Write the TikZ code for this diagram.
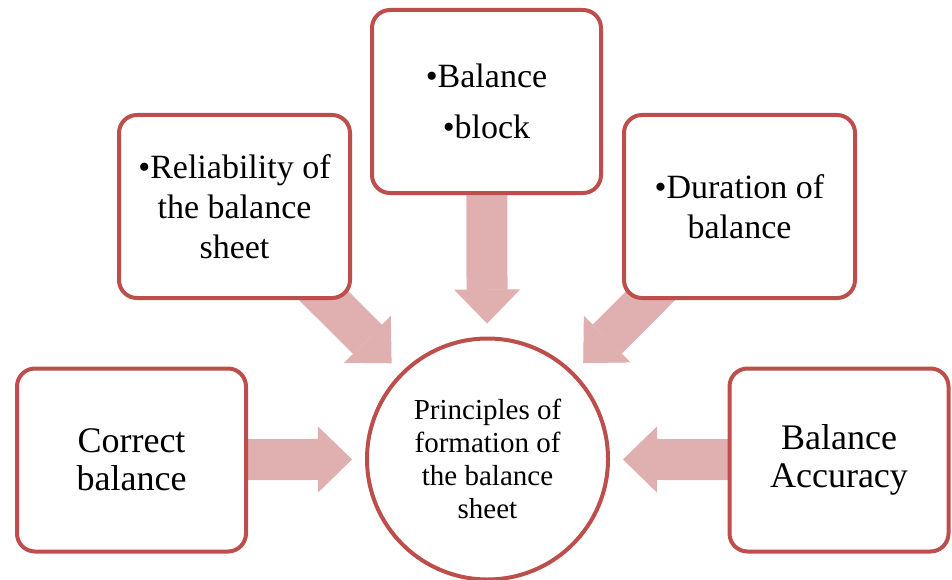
\documentclass[tikz,border=0pt]{standalone}
\usepackage{fontspec}
\setmainfont{Liberation Serif}
\usetikzlibrary{arrows.meta, backgrounds}
\definecolor{edgered}{HTML}{BC4E4B}
\definecolor{flowpink}{HTML}{DFB0AF}

\begin{document}
\begin{tikzpicture}[
    x=1pt, y=-1pt,
    box/.style={draw=edgered, fill=white, line width=4pt, rounded corners=18pt, align=center, minimum width=231pt, minimum height=183pt, inner sep=0pt, font=\fontsize{34}{40}\selectfont},
    big/.style={box, font=\fontsize{36}{38}\selectfont},
    hub/.style={circle, draw=edgered, fill=white, line width=4pt, align=center, minimum size=241pt, inner sep=0pt, font=\fontsize{29}{33}\selectfont},
    flow/.style={flowpink, line width=41pt, shorten >=13pt, shorten <=-20pt, -{Triangle[width=66pt, length=34pt, line width=1pt]}}
  ]
    \useasboundingbox (0,0) rectangle (952,580);
    \node[hub] (hub) at (487.5,459) {Principles of\\formation of\\the balance\\sheet};
    \node[box] (rel) at (234.5,206.5) {•Reliability of\\the balance\\sheet};
    \node[box, minimum width=229pt] (blk) at (486.5,101.5) {•Balance\\[11pt]•block};
    \node[box] (dur) at (739.5,206.5) {•Duration of\\balance};
    \node[big, minimum width=229pt] (cor) at (131.5,460) {Correct\\balance};
    \node[big, minimum width=219pt] (acc) at (839,460) {Balance\\Accuracy};
    \begin{pgfonlayer}{background}
      \draw[flow] (cor) -- (hub);
      \draw[flow] (rel) -- (hub);
      \draw[flow] (blk) -- (hub);
      \draw[flow] (dur) -- (hub);
      \draw[flow] (acc) -- (hub);
    \end{pgfonlayer}
\end{tikzpicture}
\end{document}
